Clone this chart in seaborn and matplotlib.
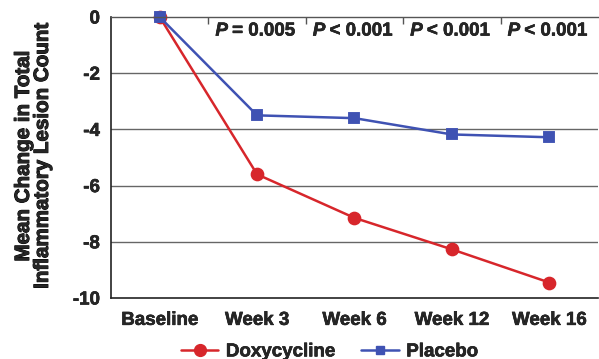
import matplotlib
matplotlib.use("Agg")
import matplotlib.pyplot as plt
import matplotlib.patheffects as pe
import seaborn as sns
import pandas as pd
from matplotlib.lines import Line2D

categories = ["Baseline", "Week 3", "Week 6", "Week 12", "Week 16"]
doxycycline = [0, -5.6, -7.15, -8.27, -9.45]
placebo = [0, -3.5, -3.6, -4.18, -4.28]
p_labels = ["= 0.005", "< 0.001", "< 0.001", "< 0.001"]
yticks = [0, -2, -4, -6, -8, -10]

RED = "#d7262b"
BLUE = "#3f52b3"
FS = 13.5
THICK = [pe.withStroke(linewidth=0.7, foreground="black")]

sns.set_theme(style="white")
plt.rcParams["font.family"] = ["Liberation Sans", "DejaVu Sans"]
plt.rcParams["axes.unicode_minus"] = False

df = pd.DataFrame({
    "Time": categories * 2,
    "Change": doxycycline + placebo,
    "Group": ["Doxycycline"] * len(categories) + ["Placebo"] * len(categories),
})

fig = plt.figure(figsize=(5.99, 3.59), dpi=100)
ax = fig.add_axes([0.1853, 0.170, 0.8130, 0.7826])

sns.pointplot(data=df, x="Time", y="Change", hue="Group", order=categories,
              palette={"Doxycycline": RED, "Placebo": BLUE},
              markers=["o", "s"], linestyles=["-", "-"], errorbar=None,
              markersize=6, linewidth=1.8, ax=ax, legend=False)
for ln in ax.lines:
    ln.set_clip_on(False)
    if ln.get_marker() == "o":
        ln.set_markersize(8.5)
    elif ln.get_marker() == "s":
        ln.set_markersize(6.5)
for coll in ax.collections:
    coll.set_clip_on(False)

ax.set_ylim(-10, 0)
ax.set_xlim(-0.5, 4.5)
ax.set_yticks(yticks)
ax.set_yticklabels([str(v) for v in yticks], fontsize=FS, fontweight="bold")
ax.set_xticks(range(len(categories)))
ax.set_xticklabels(categories, fontsize=FS, fontweight="bold")
ax.set_xticks([0.5, 1.5, 2.5, 3.5], minor=True)
ax.tick_params(axis="x", which="major", length=0, pad=10)
ax.tick_params(axis="x", which="minor", length=5, width=1.2, direction="out", color="#222222")
ax.tick_params(axis="y", length=5, width=1.2, direction="out", color="#222222", pad=3)
for t in ax.get_xticklabels() + ax.get_yticklabels():
    t.set_path_effects([pe.withStroke(linewidth=0.4, foreground="black")])

for v in [-2, -4, -6, -8]:
    ax.axhline(v, color="#666666", lw=1.0, zorder=0)

ax.spines["right"].set_visible(False)
ax.spines["top"].set_color("#555555")
ax.spines["top"].set_linewidth(1.0)
for s in ["left", "bottom"]:
    ax.spines[s].set_color("#222222")
    ax.spines[s].set_linewidth(1.2)

top = ax.secondary_xaxis("top")
top.set_xticks([0.5, 1.5, 2.5, 3.5])
top.set_xticklabels([])
top.tick_params(direction="in", length=5, width=1.0, color="#555555")
top.spines["top"].set_visible(False)

for i, lab in enumerate(p_labels):
    ax.annotate("P", xy=(i + 1, -0.5), xytext=(-21, 0), textcoords="offset points",
                ha="right", va="center", fontsize=FS, fontweight="bold", fontstyle="italic",
                path_effects=[pe.withStroke(linewidth=0.4, foreground="black")])
    ax.annotate(lab, xy=(i + 1, -0.5), xytext=(-18, 0), textcoords="offset points",
                ha="left", va="center", fontsize=FS, fontweight="bold",
                path_effects=[pe.withStroke(linewidth=0.4, foreground="black")])

ax.set_xlabel("")
ax.set_ylabel("")
fig.text(0.055, 0.565, "Mean Change in Total\nInflammatory Lesion Count", rotation=90,
         ha="center", va="center", fontsize=14.8, fontweight="bold", linespacing=1.0,
         path_effects=THICK)

handles = [Line2D([], [], color=RED, marker="o", markersize=8.5, lw=1.8),
           Line2D([], [], color=BLUE, marker="s", markersize=6, lw=1.8)]
leg = fig.legend(handles, ["Doxycycline", "Placebo"], loc="center",
                 bbox_to_anchor=(0.55, 0.02), ncol=2, frameon=False,
                 prop={"size": FS, "weight": "bold"}, handlelength=2.0,
                 columnspacing=1.4, handletextpad=0.4)
for t in leg.get_texts():
    t.set_path_effects([pe.withStroke(linewidth=0.4, foreground="black")])

fig.savefig("out.png", dpi=100)
